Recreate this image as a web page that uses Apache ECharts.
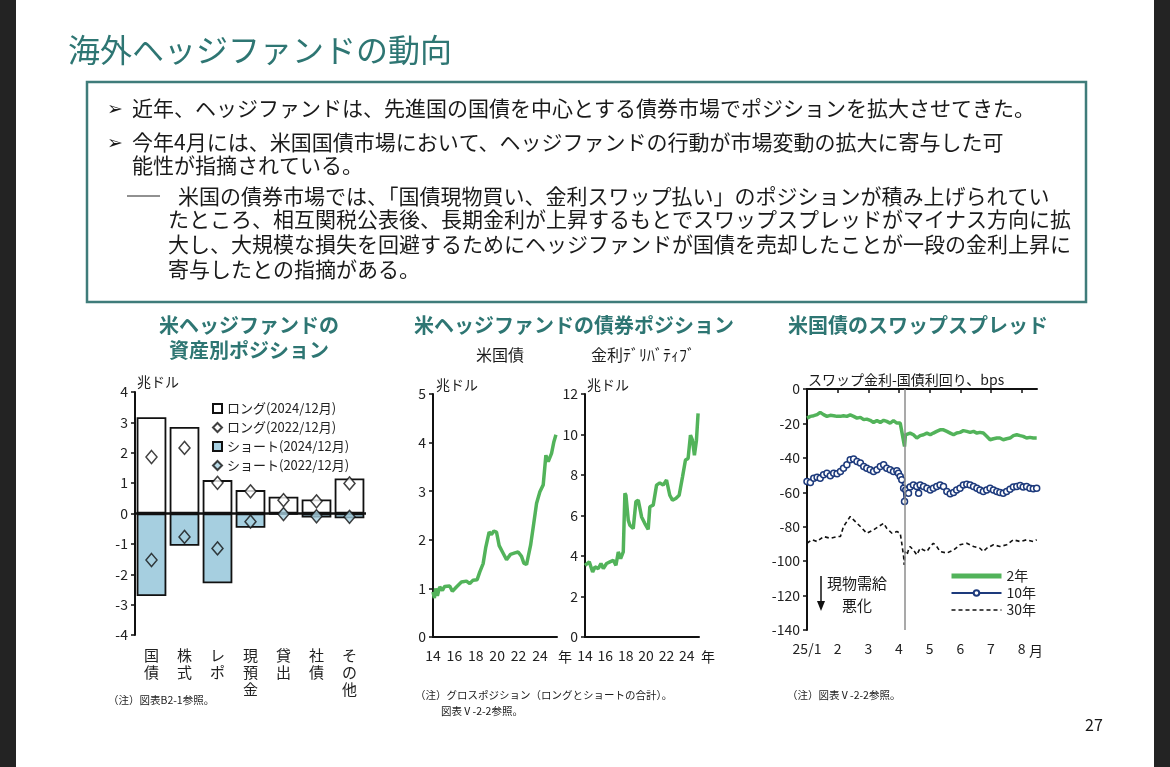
<!DOCTYPE html>
<html>
<head>
<meta charset="utf-8">
<script src="https://cdn.jsdelivr.net/npm/echarts@6/dist/echarts.min.js"></script>
<style>
html,body{margin:0;padding:0;background:#fff;}
#main{width:1170px;height:767px;}
</style>
</head>
<body>
<div id="main"></div>
<script>
// 資産別ポジション（兆ドル）
var assetCats = ['国債', '株式', 'レポ', '現預金', '貸出', '社債', 'その他'];
var long2024 = [3.17, 2.85, 1.10, 0.77, 0.55, 0.46, 1.15];
var long2022 = [1.86, 2.16, 1.01, 0.73, 0.44, 0.40, 0.99];
var short2024 = [-2.72, -1.06, -2.30, -0.47, -0.03, -0.13, -0.16];
var short2022 = [-1.53, -0.77, -1.15, -0.27, -0.02, -0.09, -0.11];

// 債券ポジション（兆ドル）[年, 値]
var ustPos = [[2014.00,0.93],[2014.13,0.80],[2014.25,1.00],[2014.41,0.85],[2014.63,1.03],[2014.88,0.96],
  [2015.09,1.04],[2015.56,1.05],[2015.81,0.94],[2016.19,1.03],[2016.66,1.13],[2017.13,1.15],[2017.44,1.10],
  [2017.75,1.17],[2018.13,1.18],[2018.38,1.34],[2018.69,1.51],[2018.94,1.85],[2019.25,2.16],[2019.47,2.11],
  [2019.69,2.18],[2019.94,2.16],[2020.19,1.88],[2020.50,1.75],[2020.88,1.59],[2021.25,1.70],[2021.66,1.73],
  [2021.97,1.75],[2022.28,1.66],[2022.50,1.52],[2022.75,1.49],[2023.13,1.89],[2023.38,2.27],[2023.69,2.75],
  [2024.00,2.99],[2024.31,3.13],[2024.56,3.74],[2024.78,3.61],[2025.09,3.78],[2025.31,4.02],[2025.50,4.16]];
var derivPos = [[2014.00,3.54],[2014.16,3.63],[2014.42,3.71],[2014.59,3.79],[2014.75,3.21],[2014.98,3.46],
  [2015.31,3.38],[2015.57,3.63],[2015.80,3.38],[2016.12,3.63],[2016.45,3.71],[2016.78,3.79],[2017.04,3.54],
  [2017.27,4.20],[2017.50,3.87],[2017.76,4.20],[2017.92,7.10],[2018.02,7.00],[2018.25,5.77],[2018.41,5.52],
  [2018.74,5.36],[2019.00,6.68],[2019.23,6.76],[2019.56,5.93],[2019.88,5.60],[2020.21,5.31],[2020.37,6.43],
  [2020.70,6.51],[2021.03,7.50],[2021.35,7.61],[2021.68,7.50],[2022.01,7.75],[2022.33,7.00],[2022.59,6.76],
  [2022.92,6.84],[2023.25,7.00],[2023.58,7.91],[2023.87,8.74],[2024.13,8.82],[2024.36,9.97],[2024.56,9.72],
  [2024.75,8.98],[2024.95,9.72],[2025.11,11.04]];

// スワップスプレッド（bps）[月, 値]
var swap2y = [[1.00,-16.9],[1.11,-15.9],[1.22,-15.5],[1.33,-14.9],[1.43,-13.6],[1.54,-14.9],[1.65,-15.9],
  [1.76,-15.3],[1.87,-15.5],[1.98,-15.9],[2.09,-15.9],[2.19,-15.5],[2.30,-15.9],[2.41,-15.1],[2.52,-15.9],
  [2.63,-16.9],[2.74,-16.5],[2.85,-17.8],[2.95,-17.5],[3.06,-18.2],[3.17,-19.4],[3.28,-18.4],[3.39,-19.4],
  [3.50,-18.2],[3.60,-18.8],[3.71,-19.8],[3.82,-18.4],[3.93,-19.8],[4.04,-19.8],[4.09,-24.6],[4.15,-30.4],
  [4.18,-33.4],[4.21,-26.6],[4.26,-27.5],[4.36,-25.6],[4.47,-26.6],[4.58,-28.5],[4.69,-27.1],[4.80,-26.6],
  [4.91,-25.6],[5.02,-26.6],[5.12,-25.6],[5.23,-24.6],[5.34,-23.7],[5.45,-23.7],[5.56,-24.6],[5.67,-25.6],
  [5.78,-26.6],[5.88,-25.6],[5.99,-25.2],[6.10,-24.2],[6.21,-24.6],[6.32,-25.2],[6.43,-24.6],[6.54,-25.6],
  [6.64,-25.2],[6.75,-25.6],[6.86,-27.5],[6.97,-29.5],[7.08,-28.9],[7.19,-28.5],[7.29,-28.5],[7.40,-29.5],
  [7.51,-28.9],[7.62,-28.5],[7.73,-27.1],[7.84,-26.6],[7.95,-27.1],[8.05,-27.5],[8.16,-28.5],[8.27,-28.1],
  [8.38,-28.5],[8.49,-28.5]];
var swap10y = [[1.00,-53.7],[1.11,-54.3],[1.22,-51.8],[1.33,-51.2],[1.43,-51.8],[1.54,-49.8],[1.65,-48.9],
  [1.76,-50.4],[1.87,-48.9],[1.98,-49.3],[2.09,-47.9],[2.19,-46.0],[2.30,-44.0],[2.41,-41.1],[2.52,-40.7],
  [2.63,-42.1],[2.74,-43.0],[2.85,-45.0],[2.95,-46.0],[3.06,-46.9],[3.17,-47.9],[3.28,-46.9],[3.39,-45.0],
  [3.50,-44.0],[3.60,-46.0],[3.71,-46.9],[3.82,-47.9],[3.93,-47.5],[3.98,-48.9],[4.04,-50.8],[4.09,-52.7],
  [4.15,-57.6],[4.18,-65.3],[4.22,-58.6],[4.31,-60.5],[4.36,-57.0],[4.47,-55.7],[4.58,-56.6],[4.64,-60.5],
  [4.69,-55.7],[4.80,-56.6],[4.91,-57.6],[5.02,-58.6],[5.12,-57.6],[5.23,-56.6],[5.34,-55.7],[5.45,-56.6],
  [5.56,-59.5],[5.67,-60.9],[5.78,-60.1],[5.88,-58.6],[5.99,-57.6],[6.10,-55.7],[6.21,-55.3],[6.32,-55.7],
  [6.43,-56.6],[6.54,-57.6],[6.64,-58.6],[6.75,-59.5],[6.86,-58.6],[6.97,-57.6],[7.08,-58.6],[7.19,-59.5],
  [7.29,-60.1],[7.40,-60.5],[7.51,-59.5],[7.62,-58.2],[7.73,-57.0],[7.84,-56.6],[7.95,-56.0],[8.05,-57.0],
  [8.16,-56.6],[8.27,-57.6],[8.38,-58.0],[8.49,-57.6]];
var swap30y = [[1.00,-89.6],[1.16,-87.6],[1.33,-88.6],[1.54,-85.7],[1.76,-86.7],[1.98,-85.7],[2.09,-85.7],
  [2.19,-79.9],[2.30,-77.0],[2.41,-74.1],[2.52,-76.0],[2.74,-79.9],[2.95,-83.8],[3.17,-81.8],[3.33,-79.9],
  [3.50,-78.0],[3.60,-80.9],[3.77,-83.8],[3.93,-82.8],[4.04,-83.8],[4.09,-89.6],[4.15,-97.3],[4.17,-102.2],
  [4.20,-94.4],[4.26,-96.4],[4.31,-93.5],[4.36,-91.5],[4.47,-93.5],[4.58,-96.4],[4.69,-92.5],[4.80,-93.5],
  [4.91,-94.4],[5.02,-91.5],[5.12,-89.6],[5.23,-91.5],[5.34,-94.4],[5.56,-95.3],[5.67,-94.4],[5.78,-93.5],
  [5.99,-90.5],[6.21,-89.6],[6.43,-91.5],[6.64,-92.5],[6.75,-94.4],[6.86,-92.5],[7.08,-90.5],[7.29,-91.5],
  [7.51,-90.5],[7.73,-87.6],[7.95,-88.6],[8.16,-87.6],[8.38,-88.6],[8.49,-87.6]];
var tariffMonth = 4.2;

var FONT = '"Noto Sans CJK JP", "DejaVu Sans", sans-serif';
var TEAL = '#2e7673';
var BLUE = '#a6cfe0';

function txt(x, y, s, size, extra) {
    var st = {text: s, fontSize: size, fontFamily: FONT, fill: '#1a1a1a', align: 'left', verticalAlign: 'middle'};
    for (var k in extra) st[k] = extra[k];
    return {type: 'text', x: x, y: y, z: 10, style: st};
}

function yAx(grid, min, max, step) {
    return {
        type: 'value', gridIndex: grid, min: min, max: max, interval: step,
        axisLine: {show: true, lineStyle: {color: '#111', width: 2}},
        axisTick: {show: true, length: 4, lineStyle: {color: '#111', width: 1.5}},
        axisLabel: {color: '#222', fontSize: 14, fontFamily: FONT, margin: 7},
        splitLine: {show: false}
    };
}

function yearAx(grid, max) {
    return {
        type: 'value', gridIndex: grid, min: 2014, max: max, interval: 2,
        axisLine: {show: true, lineStyle: {color: '#111', width: 2}},
        axisTick: {show: false},
        splitLine: {show: false},
        axisLabel: {
            color: '#222', fontSize: 14, fontFamily: FONT, margin: 12, showMaxLabel: false,
            formatter: function (v) { return v % 2 === 0 ? String(v - 2000) : ''; }
        }
    };
}

var chartDom = document.getElementById('main');
var myChart = echarts.init(chartDom);
var option;

var graphics = [
    {type: 'rect', shape: {x: 0, y: 0, width: 16, height: 767}, style: {fill: '#232323'}},
    {type: 'rect', shape: {x: 1154, y: 0, width: 16, height: 767}, style: {fill: '#232323'}},
    txt(68, 50, '海外ヘッジファンドの動向', 32, {fill: TEAL}),
    {type: 'rect', shape: {x: 87, y: 82, width: 999, height: 220}, style: {fill: 'none', stroke: '#3f7c7a', lineWidth: 2.5}},
    txt(107, 108, '➢', 19),
    txt(132, 108, '近年、ヘッジファンドは、先進国の国債を中心とする債券市場でポジションを拡大させてきた。', 21),
    txt(107, 142, '➢', 19),
    txt(132, 142, '今年4月には、米国国債市場において、ヘッジファンドの行動が市場変動の拡大に寄与した可', 21),
    txt(132, 165, '能性が指摘されている。', 21),
    {type: 'line', shape: {x1: 127, y1: 196, x2: 160, y2: 196}, style: {stroke: '#222', lineWidth: 1}},
    txt(178, 196, '米国の債券市場では、「国債現物買い、金利スワップ払い」のポジションが積み上げられてい', 21),
    txt(168, 219, 'たところ、相互関税公表後、長期金利が上昇するもとでスワップスプレッドがマイナス方向に拡', 21),
    txt(168, 244, '大し、大規模な損失を回避するためにヘッジファンドが国債を売却したことが一段の金利上昇に', 21),
    txt(168, 269, '寄与したとの指摘がある。', 21),

    txt(249, 325, '米ヘッジファンドの', 20, {fill: TEAL, fontWeight: 'bold', align: 'center'}),
    txt(249, 350, '資産別ポジション', 20, {fill: TEAL, fontWeight: 'bold', align: 'center'}),
    txt(574, 325, '米ヘッジファンドの債券ポジション', 20, {fill: TEAL, fontWeight: 'bold', align: 'center'}),
    txt(918, 325, '米国債のスワップスプレッド', 20, {fill: TEAL, fontWeight: 'bold', align: 'center'}),
    txt(500, 355, '米国債', 16, {align: 'center'}),
    txt(643, 355, '金利ﾃﾞﾘﾊﾞﾃｨﾌﾞ', 16, {align: 'center'}),

    txt(137, 382, '兆ドル', 14),
    txt(436, 385, '兆ドル', 14),
    txt(587, 385, '兆ドル', 14),
    txt(558, 657, '年', 14),
    txt(701, 657, '年', 14),
    txt(1029, 651, '月', 14),
    txt(808, 380, 'スワップ金利-国債利回り、bps', 14),

    {type: 'line', shape: {x1: 821, y1: 576, x2: 821, y2: 602}, style: {stroke: '#111', lineWidth: 1.5}},
    {type: 'polygon', shape: {points: [[817, 601], [825, 601], [821, 611]]}, style: {fill: '#111'}},
    txt(857, 583, '現物需給', 15, {align: 'center'}),
    txt(857, 605, '悪化', 15, {align: 'center'}),

    txt(108, 700, '（注）図表B2-1参照。', 10.5),
    txt(415, 695, '（注）グロスポジション（ロングとショートの合計）。', 10.5),
    txt(441, 711, '図表Ⅴ-2-2参照。', 10.5),
    txt(787, 695, '（注）図表Ⅴ-2-2参照。', 10.5),
    txt(1085, 725, '27', 16)
];

option = {
    backgroundColor: '#fff',
    animation: false,
    textStyle: {fontFamily: FONT},
    graphic: graphics,
    grid: [
        {left: 135, top: 392, width: 231, height: 243},
        {left: 433, top: 394, width: 124, height: 243},
        {left: 585, top: 394, width: 114, height: 243},
        {left: 807, top: 389, width: 230, height: 241}
    ],
    legend: [
        {
            left: 207, top: 397, orient: 'vertical', itemWidth: 9, itemHeight: 9, itemGap: 6,
            selectedMode: false,
            textStyle: {fontSize: 13, color: '#222', fontFamily: FONT},
            data: [
                {name: 'ロング(2024/12月)', icon: 'rect'},
                {name: 'ロング(2022/12月)', icon: 'diamond'},
                {name: 'ショート(2024/12月)', icon: 'rect'},
                {name: 'ショート(2022/12月)', icon: 'diamond'}
            ]
        },
        {
            left: 944, top: 564, orient: 'vertical', itemWidth: 50, itemHeight: 7, itemGap: 3,
            selectedMode: false,
            textStyle: {fontSize: 14, color: '#222', fontFamily: FONT},
            data: [
                {name: '2年', lineStyle: {width: 5}, itemStyle: {opacity: 0}},
                {name: '10年', lineStyle: {width: 2}},
                {name: '30年', lineStyle: {width: 1.6}, itemStyle: {opacity: 0}}
            ]
        }
    ],
    xAxis: [
        {
            type: 'category', gridIndex: 0, data: assetCats,
            axisLine: {show: false}, axisTick: {show: false},
            axisLabel: {
                color: '#222', fontSize: 15, fontFamily: FONT, lineHeight: 17, margin: 12, interval: 0,
                formatter: function (v) { return v.split('').join('\n'); }
            }
        },
        yearAx(1, 2025.6),
        yearAx(2, 2025.2),
        {
            type: 'value', gridIndex: 3, min: 1, max: 8.5, interval: 1,
            axisLine: {show: true, lineStyle: {color: '#111', width: 2}},
            axisTick: {show: true, length: 4, lineStyle: {color: '#111', width: 1.5}},
            splitLine: {show: false},
            axisLabel: {
                color: '#222', fontSize: 14, fontFamily: FONT, margin: 12, showMaxLabel: false,
                formatter: function (v) { return v === 1 ? '25/1' : (v % 1 === 0 ? String(v) : ''); }
            }
        }
    ],
    yAxis: [
        yAx(0, -4, 4, 1),
        yAx(1, 0, 5, 1),
        yAx(2, 0, 12, 2),
        yAx(3, -140, 0, 20)
    ],
    series: [
        {
            type: 'bar', name: 'ロング(2024/12月)', xAxisIndex: 0, yAxisIndex: 0, stack: 'pos',
            data: long2024, barWidth: '90%',
            itemStyle: {color: '#fff', borderColor: '#111', borderWidth: 1.8}
        },
        {
            type: 'bar', name: 'ショート(2024/12月)', xAxisIndex: 0, yAxisIndex: 0, stack: 'pos',
            data: short2024, barWidth: '90%',
            itemStyle: {color: BLUE, borderColor: '#111', borderWidth: 1.8},
            markLine: {
                silent: true, symbol: 'none', label: {show: false},
                lineStyle: {color: '#111', width: 2.5, type: 'solid'},
                data: [{yAxis: 0}]
            }
        },
        {
            type: 'scatter', name: 'ロング(2022/12月)', xAxisIndex: 0, yAxisIndex: 0,
            data: long2022, symbol: 'diamond', symbolSize: [11, 13], z: 5,
            itemStyle: {color: '#fff', borderColor: '#111', borderWidth: 1.5}
        },
        {
            type: 'scatter', name: 'ショート(2022/12月)', xAxisIndex: 0, yAxisIndex: 0,
            data: short2022, symbol: 'diamond', symbolSize: [11, 13], z: 5,
            itemStyle: {color: BLUE, borderColor: '#111', borderWidth: 1.5}
        },
        {
            type: 'line', name: '米国債', xAxisIndex: 1, yAxisIndex: 1, data: ustPos,
            symbol: 'none', lineStyle: {color: '#52b35a', width: 3.5}, itemStyle: {color: '#52b35a'}
        },
        {
            type: 'line', name: '金利デリバティブ', xAxisIndex: 2, yAxisIndex: 2, data: derivPos,
            symbol: 'none', lineStyle: {color: '#52b35a', width: 3.5}, itemStyle: {color: '#52b35a'}
        },
        {
            type: 'line', name: '30年', xAxisIndex: 3, yAxisIndex: 3, data: swap30y,
            symbol: 'none', lineStyle: {color: '#111', width: 1.6, type: [4, 3]}, itemStyle: {color: '#111'},
            markLine: {
                silent: true, symbol: 'none', label: {show: false},
                lineStyle: {color: '#8c8c8c', width: 1.5, type: 'solid'},
                data: [{xAxis: tariffMonth}]
            }
        },
        {
            type: 'line', name: '10年', xAxisIndex: 3, yAxisIndex: 3, data: swap10y,
            symbol: 'circle', symbolSize: 6, showSymbol: true,
            lineStyle: {color: '#1d3a7c', width: 2},
            itemStyle: {color: '#fff', borderColor: '#1d3a7c', borderWidth: 1.5}
        },
        {
            type: 'line', name: '2年', xAxisIndex: 3, yAxisIndex: 3, data: swap2y,
            symbol: 'none', lineStyle: {color: '#52b35a', width: 3.5}, itemStyle: {color: '#52b35a'}
        }
    ]
};

option && myChart.setOption(option);
window.addEventListener('resize', function () {
    myChart.resize();
});
</script>
</body>
</html>
